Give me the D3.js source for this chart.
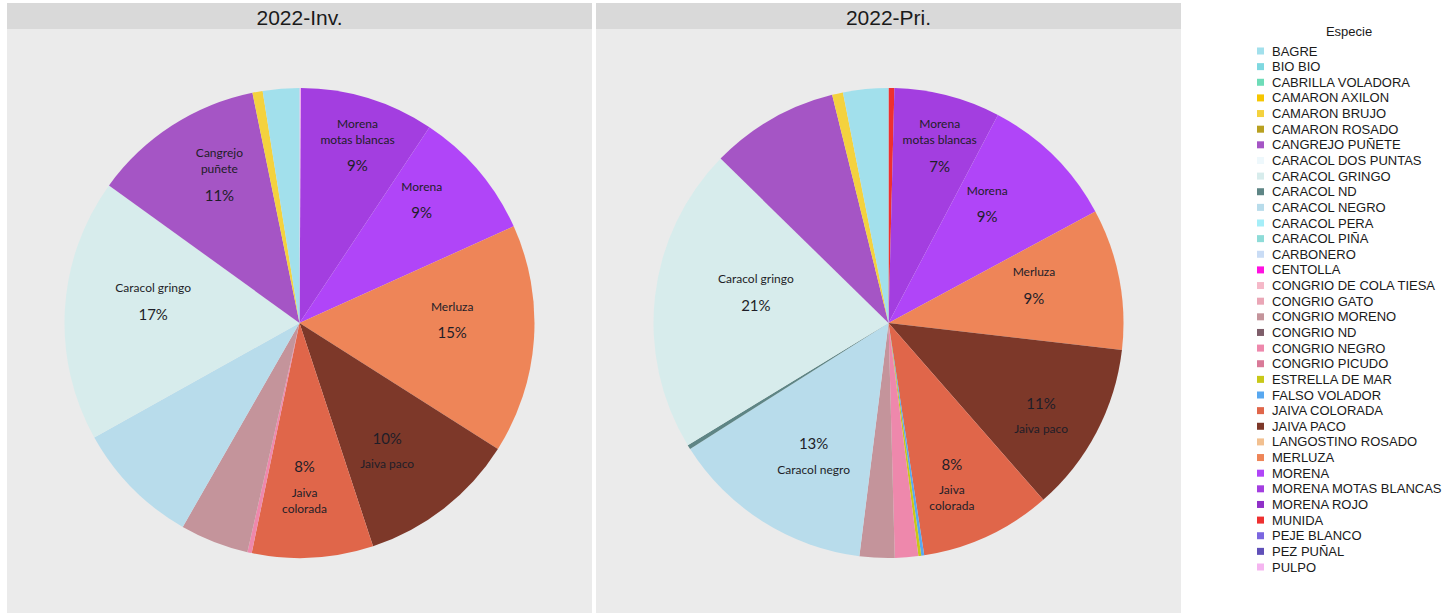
<!DOCTYPE html>
<html>
<head>
<meta charset="utf-8">
<script src="https://cdn.jsdelivr.net/npm/d3@7"></script>
<style>
  body { margin: 0; background: #fff; }
  svg { display: block; }
</style>
</head>
<body>
<script>
const width = 1454;
const height = 613;

// legend order (alphabetical)
const species = [
  "BAGRE", "BIO BIO", "CABRILLA VOLADORA", "CAMARON AXILON", "CAMARON BRUJO",
  "CAMARON ROSADO", "CANGREJO PUÑETE", "CARACOL DOS PUNTAS", "CARACOL GRINGO",
  "CARACOL ND", "CARACOL NEGRO", "CARACOL PERA", "CARACOL PIÑA", "CARBONERO",
  "CENTOLLA", "CONGRIO DE COLA TIESA", "CONGRIO GATO", "CONGRIO MORENO",
  "CONGRIO ND", "CONGRIO NEGRO", "CONGRIO PICUDO", "ESTRELLA DE MAR",
  "FALSO VOLADOR", "JAIVA COLORADA", "JAIVA PACO", "LANGOSTINO ROSADO",
  "MERLUZA", "MORENA", "MORENA MOTAS BLANCAS", "MORENA ROJO", "MUNIDA",
  "PEJE BLANCO", "PEZ PUÑAL", "PULPO"
];

const speciesColors = [
  "#a2e0ec", "#7fd8e0", "#6edcb8", "#f6c600", "#f4d23e",
  "#b8a020", "#a555c5", "#eef8fc", "#d7ecec",
  "#5e8585", "#b8dceb", "#a5eef8", "#8edcd8", "#c9dcf5",
  "#ff10e0", "#f5b8c8", "#eaa6b6", "#c4949b",
  "#7e5e6a", "#ee88ac", "#d97a98", "#c8c818",
  "#58a8f0", "#e0664a", "#7d3829", "#f2c090",
  "#ee8558", "#b045f8", "#a33ee0", "#9030c8", "#ee3030",
  "#7b66e0", "#6050b8", "#f5b5f0"
];

// share (%) per species, same order as `species`
const inv2022 = [
  2.5, 0, 0, 0, 0.7,
  0, 11.8, 0, 18.0,
  0, 8.6, 0, 0, 0,
  0, 0, 0, 4.7,
  0, 0.3, 0, 0,
  0, 8.3, 10.9, 0,
  15.7, 8.9, 9.2, 0, 0,
  0, 0, 0.1
];

const pri2022 = [
  3.1, 0, 0, 0, 0.75,
  0, 8.8, 0, 21.0,
  0.3, 14.0, 0, 0, 0,
  0, 0, 0, 2.4,
  0, 1.6, 0, 0.2,
  0.2, 9.0, 11.7, 0,
  9.7, 9.4, 7.3, 0, 0.4,
  0, 0, 0
];

const panelTitles = ["2022-Inv.", "2022-Pri."];
const panelValues = [inv2022, pri2022];

// slice labels as printed on the chart
const labelsInv = [
  { species: "MORENA MOTAS BLANCAS", lines: ["Morena", "motas blancas", "9%"] },
  { species: "MORENA", lines: ["Morena", "9%"] },
  { species: "MERLUZA", lines: ["Merluza", "15%"] },
  { species: "JAIVA PACO", lines: ["10%", "Jaiva paco"] },
  { species: "JAIVA COLORADA", lines: ["8%", "Jaiva", "colorada"] },
  { species: "CARACOL GRINGO", lines: ["Caracol gringo", "17%"] },
  { species: "CANGREJO PUÑETE", lines: ["Cangrejo", "puñete", "11%"] }
];
const labelsPri = [
  { species: "MORENA MOTAS BLANCAS", lines: ["Morena", "motas blancas", "7%"] },
  { species: "MORENA", lines: ["Morena", "9%"] },
  { species: "MERLUZA", lines: ["Merluza", "9%"] },
  { species: "JAIVA PACO", lines: ["11%", "Jaiva paco"] },
  { species: "JAIVA COLORADA", lines: ["8%", "Jaiva", "colorada"] },
  { species: "CARACOL NEGRO", lines: ["13%", "Caracol negro"] },
  { species: "CARACOL GRINGO", lines: ["Caracol gringo", "21%"] }
];
const panelLabels = [labelsInv, labelsPri];

// label placement: fraction of radius and angle nudge (deg) from slice middle
const labelPlace = [
  { "MORENA MOTAS BLANCAS": [0.80, 1], "MORENA": [0.74, -5], "MERLUZA": [0.65, -5.5],
    "JAIVA PACO": [0.66, 3.5], "JAIVA COLORADA": [0.70, 1.5],
    "CARACOL GRINGO": [0.63, 5.4], "CANGREJO PUÑETE": [0.72, 4.6] },
  { "MORENA MOTAS BLANCAS": [0.79, 1.4], "MORENA": [0.66, -5.2], "MERLUZA": [0.64, -3.9],
    "JAIVA PACO": [0.76, 3.6], "JAIVA COLORADA": [0.74, 3.6],
    "CARACOL NEGRO": [0.65, -3], "CARACOL GRINGO": [0.58, 6.8] }
];

const color = d3.scaleOrdinal().domain(species).range(speciesColors);

const svg = d3.select("body").append("svg")
  .attr("width", width)
  .attr("height", height)
  .style("font-family", "'Liberation Sans', Arial, sans-serif");

svg.append("rect").attr("width", width).attr("height", height).attr("fill", "#fff");

// facet layout
const panelX = d3.scaleBand().domain(panelTitles).range([7, 1181]).paddingInner(0.0068);
const stripTop = 3, stripH = 26, panelBottom = 613;
const radius = 235;
const cy = 323;

const pie = d3.pie().sort(null).value(d => d.value);
const arc = d3.arc().innerRadius(0).outerRadius(radius);

panelTitles.forEach((title, i) => {
  const x0 = panelX(title);
  const bw = panelX.bandwidth();
  const g = svg.append("g");

  g.append("rect")
    .attr("x", x0).attr("y", stripTop + stripH)
    .attr("width", bw).attr("height", panelBottom - stripTop - stripH)
    .attr("fill", "#ebebeb");

  g.append("rect")
    .attr("x", x0).attr("y", stripTop)
    .attr("width", bw).attr("height", stripH)
    .attr("fill", "#d9d9d9");

  g.append("text")
    .attr("x", x0 + bw / 2).attr("y", stripTop + stripH / 2 + 1)
    .attr("text-anchor", "middle")
    .attr("dominant-baseline", "central")
    .attr("font-size", 21)
    .attr("fill", "#1a1a1a")
    .text(title);

  // clockwise from 12 o'clock in reverse legend order
  const data = species.map((s, j) => ({ species: s, value: panelValues[i][j] })).reverse();
  const arcs = pie(data);

  const pg = g.append("g").attr("transform", `translate(${x0 + bw / 2},${cy})`);

  pg.selectAll("path")
    .data(arcs)
    .enter()
    .append("path")
    .attr("d", arc)
    .attr("fill", d => color(d.data.species));

  const lblG = pg.append("g")
    .style("font-family", "Lato, 'Open Sans', sans-serif")
    .attr("fill", "#1e1e28");

  panelLabels[i].forEach(lbl => {
    const a = arcs.find(d => d.data.species === lbl.species);
    const place = labelPlace[i][lbl.species] || [0.68, 0];
    const mid = (a.startAngle + a.endAngle) / 2 + place[1] * Math.PI / 180;
    const r = place[0] * radius;
    const lx = Math.sin(mid) * r;
    const ly = -Math.cos(mid) * r;

    // vertical layout of the lines
    const pct = lbl.lines.map(t => /%$/.test(t));
    const offs = [0];
    for (let k = 1; k < lbl.lines.length; k++) {
      const gap = (pct[k] || pct[k - 1]) ? 26 : 16;
      offs.push(offs[k - 1] + gap);
    }
    const total = offs[offs.length - 1];

    lbl.lines.forEach((t, k) => {
      lblG.append("text")
        .attr("x", lx)
        .attr("y", ly - total / 2 + offs[k])
        .attr("text-anchor", "middle")
        .attr("dominant-baseline", "central")
        .attr("font-size", pct[k] ? 15 : 12)
        .text(t);
    });
  });
});

// legend
const legend = svg.append("g");
const legendY = d3.scalePoint().domain(species).range([51, 567]);

legend.append("text")
  .attr("x", 1349).attr("y", 31)
  .attr("text-anchor", "middle")
  .attr("dominant-baseline", "central")
  .attr("font-size", 13)
  .attr("fill", "#1a1a1a")
  .text("Especie");

const items = legend.selectAll("g.item")
  .data(species)
  .enter()
  .append("g")
  .attr("class", "item")
  .attr("transform", d => `translate(0,${legendY(d)})`);

items.append("rect")
  .attr("x", 1257).attr("y", -3.5)
  .attr("width", 7).attr("height", 7)
  .attr("fill", d => color(d));

items.append("text")
  .attr("x", 1272).attr("y", 0)
  .attr("dominant-baseline", "central")
  .attr("font-size", 13)
  .attr("fill", "#1a1a1a")
  .text(d => d);
</script>
</body>
</html>
